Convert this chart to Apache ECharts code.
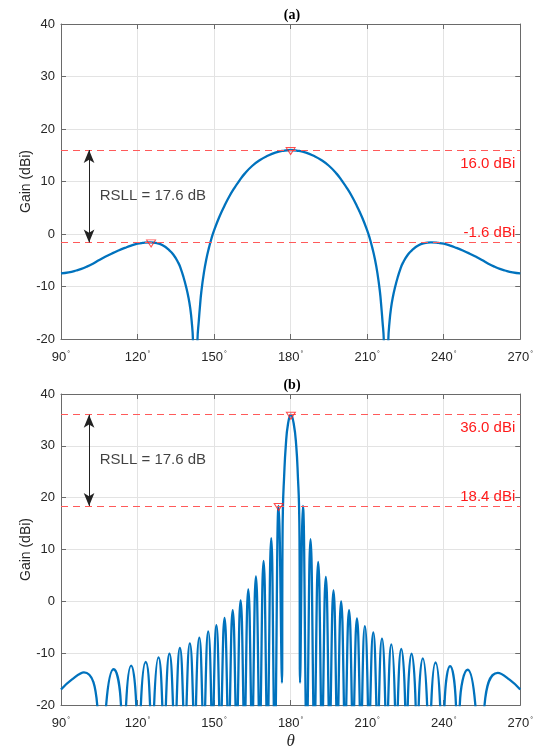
<!DOCTYPE html>
<html><head><meta charset="utf-8">
<script src="https://cdn.jsdelivr.net/npm/echarts/dist/echarts.min.js"></script>
<style>html,body{margin:0;padding:0;background:#fff}#c{width:536px;height:751px}</style>
</head><body><div id="c"></div>
<script>
// ---------- data ----------
const xTickMin = 90, xTickMax = 270, xTickStep = 30;   // theta axis (deg)
const yTickMin = -20, yTickMax = 40, yTickStep = 10;   // gain axis (dBi)

// panel (a): [theta, gain]  (values below -20 are hidden nulls)
const panelA = [
 [90,-7.5],[93,-7.3],[96,-6.95],[98,-6.65],[100,-6.25],[102.5,-5.65],[105,-4.95],[107.5,-4.3],
 [110,-3.7],[112.5,-3.15],[115,-2.65],[117.5,-2.2],[120,-1.85],[122,-1.7],
 [125,-1.6],[128,-1.8],[130,-2.2],[132,-2.9],[134,-3.9],[136,-5.5],[137,-6.7],[138,-8.2],
 [139,-10.0],[140,-12.2],[140.7,-14.3],[141.2,-16.5],[141.7,-20],[142.55,-40],
 [143.5,-20],[144,-16.6],[144.5,-13.6],[145,-11.0],[146,-7.4],[147,-4.7],[148,-2.6],
 [149,-0.8],[150,0.7],[152,3.2],[154,5.3],[156,7.2],[158,8.8],[160,10.2],[162,11.5],
 [165,13.0],[168,14.1],[171,14.9],[174,15.5],[177,15.85],[180,16.0],
 [183,15.85],[186,15.5],[189,14.9],[192,14.1],[195,13.0],[198,11.5],[200,10.2],[202,8.8],
 [204,7.2],[206,5.3],[208,3.2],[210,0.7],[211,-0.8],[212,-2.6],[213,-4.7],[214,-7.4],
 [215,-11.0],[215.5,-13.6],[216,-16.6],[216.5,-20],[217.45,-40],
 [218.3,-20],[218.8,-16.5],[219.3,-14.3],[220,-12.2],[221,-10.0],[222,-8.2],[223,-6.7],
 [224,-5.5],[226,-3.9],[228,-2.9],[230,-2.2],[232,-1.8],[235,-1.6],[238,-1.7],[240,-1.85],
 [242.5,-2.2],[245,-2.65],[247.5,-3.15],[250,-3.7],[252.5,-4.3],[255,-4.95],[257.5,-5.65],
 [260,-6.25],[262,-6.65],[264,-6.95],[267,-7.3],[270,-7.5]
];

// panel (b): [theta, gain]
const panelB = [
 [90,-17.0],[94.2,-15.1],[99.0,-13.7],[104.2,-20],[106.0,-40],
 [107.7,-20],[110.6,-13.1],[113.5,-20],[114.5,-40],
 [115.5,-20],[117.5,-12.4],[119.5,-20],[120.4,-40],
 [121.3,-20],[123.2,-11.7],[124.9,-20],[125.7,-40],
 [126.5,-20],[128.2,-10.8],[129.7,-20],[130.4,-40],
 [131.1,-20],[132.5,-10.1],[133.9,-20],[134.6,-40],
 [135.3,-20],[136.6,-9.0],[137.9,-20],[138.6,-40],
 [139.2,-20],[140.5,-8.1],[141.8,-20],[142.4,-40],
 [142.9,-20],[144.2,-7.0],[145.4,-20],[146.0,-40],
 [146.5,-20],[147.7,-5.8],[148.9,-20],[149.3,-40],
 [149.8,-20],[150.9,-4.6],[152.0,-20],[152.5,-40],
 [153.0,-20],[154.1,-3.2],[155.2,-20],[155.7,-40],
 [156.2,-20],[157.3,-1.7],[158.4,-20],[158.8,-40],
 [159.3,-20],[160.4,0.2],[161.5,-20],[161.9,-40],
 [162.3,-20],[163.4,2.3],[164.5,-20],[164.9,-40],
 [165.3,-20],[166.4,4.8],[167.5,-20],[167.9,-40],
 [168.3,-20],[169.4,7.8],[170.5,-20],[170.9,-40],
 [171.3,-20],[172.4,12.2],[173.4,-20],[173.8,-40],
 [174.2,-20],[175.3,18.4],[176.6,-15.7],
 [176.8,10],[177.0,18.4],[177.4,23.5],[178.1,30],[179.0,34.3],[180.1,36.0],[181.2,34.3],
 [182.2,30],[182.9,23.5],[183.3,18.4],[183.5,10],[183.7,-15.7],
 [184.8,18.4],[185.9,-20],[186.3,-40],
 [186.7,-20],[187.8,12.0],[188.9,-20],[189.3,-40],
 [189.7,-20],[190.8,7.6],[191.9,-20],[192.3,-40],
 [192.7,-20],[193.8,4.7],[194.9,-20],[195.3,-40],
 [195.7,-20],[196.8,2.1],[197.9,-20],[198.3,-40],
 [198.7,-20],[199.8,0.0],[200.9,-20],[201.3,-40],
 [201.8,-20],[202.9,-1.7],[204.0,-20],[204.4,-40],
 [204.9,-20],[206.0,-3.3],[207.1,-20],[207.6,-40],
 [208.0,-20],[209.1,-4.8],[210.3,-20],[210.7,-40],
 [211.2,-20],[212.4,-6.0],[213.6,-20],[214.1,-40],
 [214.6,-20],[215.8,-7.2],[217.1,-20],[217.6,-40],
 [218.2,-20],[219.5,-8.3],[220.9,-20],[221.4,-40],
 [222.0,-20],[223.4,-9.2],[224.9,-20],[225.4,-40],
 [225.9,-20],[227.4,-10.1],[229.0,-20],[229.6,-40],
 [230.2,-20],[231.8,-11.0],[233.5,-20],[234.3,-40],
 [235.1,-20],[236.8,-11.8],[238.6,-20],[239.5,-40],
 [240.3,-20],[242.5,-12.5],[244.8,-20],[245.6,-40],
 [246.3,-20],[249.4,-13.2],[252.4,-20],[254.2,-40],
 [256.0,-20],[261.2,-13.8],[265.8,-15.1],[270,-17.0]
];

// marked peaks
const peaksA = [[180,16.0],[125.3,-1.6]];
const peaksB = [[180.1,36.0],[175.3,18.4]];
// reference levels (dBi): [main, side]
const levelsA = [16.0, -1.6];
const levelsB = [36.0, 18.4];
const rsllA = 17.6, rsllB = 17.6;
const arrowTheta = 101;
const textTheta = 105.2;

// ---------- styles ----------
const FONT = "'Liberation Sans', Arial, Helvetica, sans-serif";
const SERIF = "'Liberation Serif', 'Times New Roman', serif";
const AX = '#262626', BOX = '#6a6a6a', GRIDC = '#e3e3e3', BLUE = '#0072BD';
const REDL = '#ff5a5a', REDT = '#ff1a1a';

const grids = [
  {left:61, top:24, width:462, height:315},
  {left:61, top:394, width:462, height:313}
];

function xAxesFor(gi, name) {
  const common = {gridIndex:gi, type:'value', min:xTickMin, max:xTickMax, interval:xTickStep,
    axisLine:{show:true, onZero:false, lineStyle:{color:BOX, width:1}},
    axisTick:{show:true, inside:true, length:5, lineStyle:{color:BOX}}};
  return [
    Object.assign({}, common, {position:'bottom',
      axisLabel:{margin:12, formatter: v => '{n|' + v + '}{d|°}',
        rich:{n:{fontSize:13, color:AX, fontFamily:FONT}, d:{fontSize:7, color:AX, fontFamily:FONT, verticalAlign:'top', padding:[0,0,6,1]}}},
      splitLine:{show:true, lineStyle:{color:GRIDC, width:1}},
      name:name, nameLocation:'middle', nameGap:28, nameMoveOverlap:false,
      nameTextStyle:{fontFamily:SERIF, fontStyle:'italic', fontSize:17, color:AX}}),
    Object.assign({}, common, {position:'top', axisLabel:{show:false}, splitLine:{show:false}})
  ];
}
function yAxesFor(gi) {
  const common = {gridIndex:gi, type:'value', min:yTickMin, max:yTickMax, interval:yTickStep,
    axisLine:{show:true, onZero:false, lineStyle:{color:BOX, width:1}},
    axisTick:{show:true, inside:true, length:5, lineStyle:{color:BOX}}};
  return [
    Object.assign({}, common, {position:'left',
      axisLabel:{margin:6, fontSize:13, color:AX, fontFamily:FONT},
      splitLine:{show:true, lineStyle:{color:GRIDC, width:1}},
      name:'Gain (dBi)', nameLocation:'middle', nameGap:28, nameMoveOverlap:false,
      nameTextStyle:{fontFamily:FONT, fontSize:14, color:AX}}),
    Object.assign({}, common, {position:'right', axisLabel:{show:false}, splitLine:{show:false}})
  ];
}

function panelSeries(gi, curve, peaks, levels, rsll) {
  const xi = gi * 2, yi = gi * 2;
  return [
    {type:'line', xAxisIndex:xi, yAxisIndex:yi, data:curve, smooth:0.5, showSymbol:false,
     clip:true, lineStyle:{color:BLUE, width:2.3}, z:3,
     markLine:{silent:true, symbol:['none','none'], animation:false,
       lineStyle:{color:REDL, width:1, type:[7,5]},
       label:{show:true, color:REDT, fontSize:15, fontFamily:FONT},
       data:[
         {yAxis:levels[0], label:{formatter: levels[0].toFixed(1) + ' dBi', position:'insideEndBottom', distance:[5,6]}},
         {yAxis:levels[1], label:{formatter: levels[1].toFixed(1) + ' dBi', position:'insideEndTop', distance:[5,2]}}
       ]}},
    {type:'scatter', xAxisIndex:xi, yAxisIndex:yi, data:peaks, symbol:'triangle', symbolRotate:180,
     symbolSize:[9,7], symbolOffset:[0,1], z:5,
     itemStyle:{color:'rgba(255,255,255,0)', borderColor:'#ff2020', borderWidth:1}},
    {type:'scatter', xAxisIndex:xi, yAxisIndex:yi, z:6,
     data:[[textTheta, (levels[0] + levels[1]) / 2]], symbolSize:0,
     label:{show:true, position:'right', distance:0, formatter:'RSLL = ' + rsll.toFixed(1) + ' dB',
       fontSize:15, fontFamily:FONT, color:'#111'},
     markLine:{silent:true, animation:false, symbol:['arrow','arrow'], symbolSize:[8,13],
       lineStyle:{color:'#222', width:1, type:'solid'}, label:{show:false},
       data:[[{coord:[arrowTheta, levels[0]]}, {coord:[arrowTheta, levels[1]]}]]}}
  ];
}

const chart = echarts.init(document.getElementById('c'), null, {renderer:'canvas'});
chart.setOption({
  animation:false,
  backgroundColor:'#fff',
  grid:grids,
  xAxis:[...xAxesFor(0, ''), ...xAxesFor(1, 'θ')],
  yAxis:[...yAxesFor(0), ...yAxesFor(1)],
  graphic:[
    {type:'text', x:292, y:15, style:{text:'(a)', fontFamily:SERIF, fontWeight:'bold', fontSize:14, fill:'#000', textAlign:'center', textVerticalAlign:'middle'}},
    {type:'text', x:292, y:385, style:{text:'(b)', fontFamily:SERIF, fontWeight:'bold', fontSize:14, fill:'#000', textAlign:'center', textVerticalAlign:'middle'}}
  ],
  series:[...panelSeries(0, panelA, peaksA, levelsA, rsllA), ...panelSeries(1, panelB, peaksB, levelsB, rsllB)]
});
</script></body></html>
